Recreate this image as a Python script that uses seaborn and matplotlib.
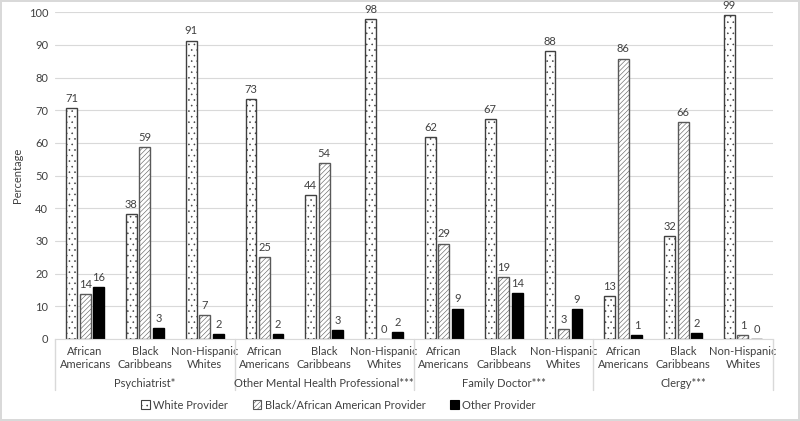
import numpy as np
import pandas as pd
import matplotlib
matplotlib.use("Agg")
import matplotlib.pyplot as plt
import matplotlib.transforms as mtransforms
from matplotlib.patches import Patch
import seaborn as sns

# ---- data ----
provider_types = ["Psychiatrist*", "Other Mental Health Professional***",
                  "Family Doctor***", "Clergy***"]
ethnic_groups = ["African\nAmericans", "Black\nCaribbeans", "Non-Hispanic\nWhites"]
series = ["White Provider", "Black/African American Provider", "Other Provider"]

white_provider = [70.6, 38.1, 91.3, 73.4, 44.0, 98.0, 61.7, 67.4, 88.0, 13.2, 31.6, 99.2]
black_provider = [13.7, 58.6, 7.3, 25.0, 53.7, 0.0, 29.2, 19.0, 2.9, 85.8, 66.3, 1.1]
other_provider = [15.8, 3.3, 1.6, 1.6, 2.6, 2.0, 9.3, 14.0, 9.1, 1.2, 1.9, 0.0]

# ---- build long table ----
groups = [f"{p}|{e}" for p in provider_types for e in ethnic_groups]
rows = []
for name, vals in zip(series, [white_provider, black_provider, other_provider]):
    for g, v in zip(groups, vals):
        rows.append({"group": g, "provider": name, "value": v})
df = pd.DataFrame(rows)

sns.set_style("white")
plt.rcParams["font.family"] = ["Lato", "DejaVu Sans"]
plt.rcParams["hatch.linewidth"] = 0.4

fig = plt.figure(figsize=(8, 4.21), dpi=100)
fig.patch.set_edgecolor("#d9d9d9")
fig.patch.set_linewidth(1.5)
ax = fig.add_axes([0.069, 0.195, 0.897, 0.776])

palette = {"White Provider": "white", "Black/African American Provider": "white",
           "Other Provider": "black"}
sns.barplot(data=df, x="group", y="value", hue="provider", order=groups,
            hue_order=series, palette=palette, width=0.68, gap=0.2,
            edgecolor="#404040", linewidth=1.0, ax=ax, legend=False)

hatches = ["...", "///////", ""]
edges = ["#404040", "#595959", "black"]
for cont, h, ec, vals in zip(ax.containers, hatches, edges,
                             [white_provider, black_provider, other_provider]):
    for bar in cont:
        bar.set_hatch(h)
        bar.set_edgecolor(ec)
    ax.bar_label(cont, labels=[f"{v:.0f}" for v in vals], padding=3,
                 fontsize=8, color="#404040")

ax.set_ylim(0, 100)
ax.set_yticks(np.arange(0, 101, 10))
ax.set_xlim(-0.5, len(groups) - 0.5)
ax.yaxis.grid(True, color="#d9d9d9", linewidth=0.8)
ax.set_axisbelow(True)
for s in ["top", "right", "left"]:
    ax.spines[s].set_visible(False)
ax.spines["bottom"].set_color("#d9d9d9")
ax.tick_params(axis="both", length=0, labelsize=8, colors="#404040", pad=5)
ax.set_xticks(range(len(groups)))
ax.set_xticklabels([g.split("|")[1] for g in groups], linespacing=1.2)
ax.set_xlabel("")
ax.set_ylabel("Percentage", fontsize=8, color="#404040", labelpad=4)

# hierarchical category labels and separators
trans = mtransforms.blended_transform_factory(ax.transData, ax.transAxes)
for i, p in enumerate(provider_types):
    ax.text(i * 3 + 1, -0.138, p, transform=trans, ha="center", va="center",
            fontsize=8, color="#404040")
for xs in np.arange(-0.5, len(groups), 3):
    ax.plot([xs, xs], [0, -0.155], transform=trans, color="#d9d9d9",
            linewidth=1, clip_on=False)

handles = [Patch(facecolor=palette[s], edgecolor=e, hatch=h, linewidth=0.8)
           for s, e, h in zip(series, edges, hatches)]
fig.legend(handles, series, loc="center", bbox_to_anchor=(0.423, 0.038),
           ncol=3, frameon=False, fontsize=8, handlelength=0.8,
           handleheight=0.8, handletextpad=0.3, columnspacing=2.2,
           labelcolor="#404040")

fig.savefig("out.png", dpi=100, edgecolor=fig.get_edgecolor())
